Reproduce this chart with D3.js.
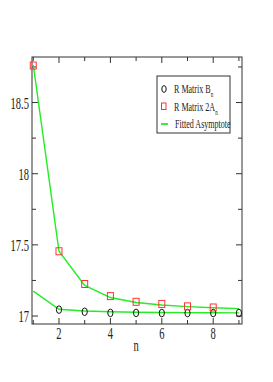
<!DOCTYPE html>
<html>
<head>
<meta charset="utf-8">
<script src="https://cdn.jsdelivr.net/npm/d3@7"></script>
<style>
  body { margin: 0; background: #fff; }
  text { font-family: "Liberation Serif", "Times New Roman", serif; fill: #222; }
</style>
</head>
<body>
<svg width="273" height="382"></svg>
<script>
// data
var n = [1, 2, 3, 4, 5, 6, 7, 8, 9];
var matrixB = [null, 17.045, 17.03, 17.022, 17.022, 17.021, 17.021, 17.021, 17.021];
var matrix2A = [18.76, 17.455, 17.225, 17.14, 17.1, 17.085, 17.068, 17.06, null];
var fitB = [17.175, 17.048, 17.035, 17.03, 17.027, 17.025, 17.024, 17.023, 17.022];
var fit2A = [18.765, 17.455, 17.215, 17.13, 17.095, 17.078, 17.066, 17.058, 17.052];
var xTicks = [2, 4, 6, 8];
var yTicks = [17, 17.5, 18, 18.5];

var svg = d3.select("svg");
var pLeft = 32, pRight = 242, pTop = 57, pBottom = 324;
var squeeze = 0.62; // the text in the picture is narrow

var x = d3.scaleLinear().domain([0.95, 9.12]).range([pLeft, pRight]);
var y = d3.scaleLinear().domain([16.944, 18.82]).range([pBottom, pTop]);

function label(parent, tx, ty, size, anchor) {
  return parent.append("text")
      .attr("transform", "translate(" + tx + "," + ty + ") scale(" + squeeze + ",1)")
      .attr("font-size", size)
      .attr("text-anchor", anchor || "start");
}

// frame
svg.append("rect")
    .attr("x", pLeft).attr("y", pTop)
    .attr("width", pRight - pLeft).attr("height", pBottom - pTop)
    .attr("fill", "none").attr("stroke", "#333").attr("stroke-width", 1);

// ticks on all sides, pointing inward
var g = svg.append("g").attr("stroke", "#333").attr("stroke-width", 1);
d3.range(1, 10).forEach(function(v) {
  var len = v % 2 == 0 ? 6 : 4;
  g.append("line").attr("x1", x(v)).attr("x2", x(v)).attr("y1", pBottom).attr("y2", pBottom - len);
  g.append("line").attr("x1", x(v)).attr("x2", x(v)).attr("y1", pTop).attr("y2", pTop + len);
});
d3.range(17, 18.8, 0.25).forEach(function(v) {
  var len = Math.abs(v * 2 - Math.round(v * 2)) < 0.01 ? 6 : 4;
  g.append("line").attr("x1", pLeft).attr("x2", pLeft + len).attr("y1", y(v)).attr("y2", y(v));
  g.append("line").attr("x1", pRight).attr("x2", pRight - len).attr("y1", y(v)).attr("y2", y(v));
});

// tick labels
xTicks.forEach(function(d) {
  label(svg, x(d), pBottom + 15, 17, "middle").text(d);
});
yTicks.forEach(function(d) {
  label(svg, pLeft - 3, y(d) + 6, 17, "end").text(d3.format("")(d));
});
label(svg, x(5), 351, 17, "middle").text("n");

// fitted lines
var line = d3.line()
    .x((d, i) => x(n[i]))
    .y(d => y(d));
[fitB, fit2A].forEach(function(s) {
  svg.append("path").datum(s)
      .attr("d", line)
      .attr("fill", "none").attr("stroke", "#22ee22").attr("stroke-width", 1.4);
});

// markers
var pB = n.map((v, i) => ({n: v, y: matrixB[i]})).filter(d => d.y != null);
var pA = n.map((v, i) => ({n: v, y: matrix2A[i]})).filter(d => d.y != null);
svg.append("g").selectAll("ellipse")
    .data(pB).join("ellipse")
    .attr("cx", d => x(d.n)).attr("cy", d => y(d.y))
    .attr("rx", 2.6).attr("ry", 3.8)
    .attr("fill", "none").attr("stroke", "#111").attr("stroke-width", 1);
svg.append("g").selectAll("rect")
    .data(pA).join("rect")
    .attr("x", d => x(d.n) - 3).attr("y", d => y(d.y) - 3.5)
    .attr("width", 6).attr("height", 7)
    .attr("fill", "none").attr("stroke", "#f33").attr("stroke-width", 1);

// legend
var lg = svg.append("g");
lg.append("rect")
    .attr("x", 157).attr("y", 76).attr("width", 73).attr("height", 57)
    .attr("fill", "#fff").attr("stroke", "#333").attr("stroke-width", 1);
lg.append("ellipse").attr("cx", 164).attr("cy", 89).attr("rx", 2.2).attr("ry", 3.4)
    .attr("fill", "none").attr("stroke", "#111");
lg.append("rect").attr("x", 161.5).attr("y", 103).attr("width", 4.5).attr("height", 6.5)
    .attr("fill", "none").attr("stroke", "#f33");
lg.append("line").attr("x1", 161).attr("x2", 168).attr("y1", 124).attr("y2", 124)
    .attr("stroke", "#22ee22").attr("stroke-width", 1.8);
var t1 = label(lg, 174, 93, 13);
t1.append("tspan").text("R Matrix B");
t1.append("tspan").attr("dy", 4).attr("font-size", 8).text("n");
var t2 = label(lg, 174, 111, 13);
t2.append("tspan").text("R Matrix 2A");
t2.append("tspan").attr("dy", 4).attr("font-size", 8).text("n");
label(lg, 175, 128, 13).text("Fitted Asymptote");
</script>
</body>
</html>
